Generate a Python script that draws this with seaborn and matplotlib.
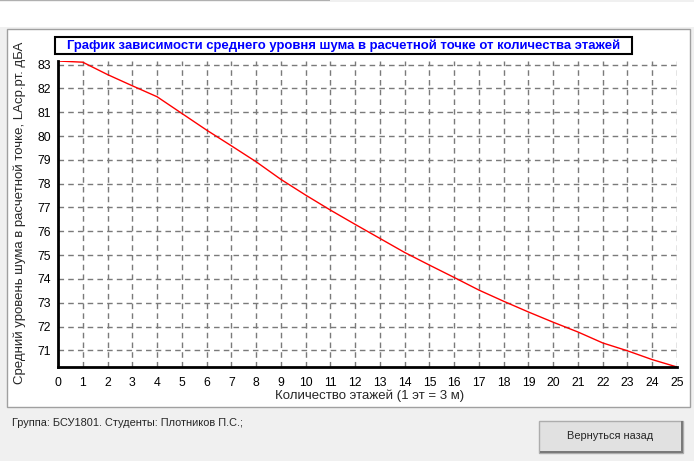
import numpy as np
import pandas as pd
import matplotlib
matplotlib.use("Agg")
import matplotlib.pyplot as plt
import seaborn as sns
from matplotlib.patches import Rectangle
from matplotlib.ticker import MultipleLocator

# ---------------------------
# Data
# ---------------------------
floors = list(range(0, 26))
noise_level = [83.15, 83.10, 82.58, 82.11, 81.65, 80.95, 80.25, 79.59, 78.92,
               78.18, 77.52, 76.89, 76.29, 75.70, 75.11, 74.58, 74.06, 73.53,
               73.06, 72.61, 72.18, 71.77, 71.31, 70.98, 70.61, 70.30]
y_ticks = list(range(71, 84))

title_text = "График зависимости среднего уровня шума в расчетной точке от количества этажей"
ylabel_text = "Средний уровень шума в расчетной точке, LАср.рт. дБА"
xlabel_text = "Количество этажей (1 эт = 3 м)"
footer_text = "Группа: БСУ1801. Студенты: Плотников П.С.;"
button_text = "Вернуться назад"

df = pd.DataFrame({"floors": floors, "noise": noise_level})

# ---------------------------
# Style
# ---------------------------
sns.set_style("white")
plt.rcParams['font.family'] = ['Liberation Sans', 'DejaVu Sans']

W, H = 694, 461
fig = plt.figure(figsize=(W / 100, H / 100), dpi=100, facecolor='#f0f0f0')


def px_rect(x0, y0, x1, y1, z=-1, **kw):
    # rectangle in pixel coords (origin top-left) -> figure fractions
    r = Rectangle((x0 / W, 1 - y1 / H), (x1 - x0) / W, (y1 - y0) / H,
                  transform=fig.transFigure, zorder=z, **kw)
    fig.patches.append(r)
    return r


# window background pieces (behind the axes)
px_rect(0, 2, W, 27, facecolor='white', edgecolor='none')
px_rect(0, 0, 330, 1.5, facecolor='#b0b0b0', edgecolor='none')
px_rect(6.5, 29, 689.5, 406.5, facecolor='white', edgecolor='#a0a0a0', linewidth=1)

# ---------------------------
# Chart
# ---------------------------
ax = fig.add_axes([58 / W, 1 - 367 / H, (677 - 58) / W, (367 - 61) / H])
ax.set_facecolor('white')
sns.lineplot(data=df, x="floors", y="noise", color='red', linewidth=1, ax=ax)

ax.set_xlim(min(floors), max(floors))
ax.set_ylim(min(noise_level), max(noise_level))
ax.set_xticks(floors)
ax.set_yticks(y_ticks)
ax.xaxis.set_minor_locator(MultipleLocator(0.2))
ax.grid(True, which='major', color='#7a7a7a', linestyle=(0, (4, 3)), linewidth=1)

for s in ['top', 'right']:
    ax.spines[s].set_visible(False)
for s in ['left', 'bottom']:
    ax.spines[s].set_color('black')
    ax.spines[s].set_linewidth(2)

ax.tick_params(axis='x', which='major', direction='out', length=4, width=1,
               pad=3, labelsize=8.8, colors='black')
ax.tick_params(axis='x', which='minor', direction='out', length=2, width=1)
ax.tick_params(axis='y', which='major', direction='out', length=4, width=1,
               pad=1, labelsize=8.8, colors='black')
ax.set_xlabel("")
ax.set_ylabel("")

# labels placed in pixel positions like the original form
fig.text(370 / W, 1 - 396 / H, xlabel_text, ha='center', va='center', fontsize=9.5)
fig.text(20 / W, 1 - 213 / H, ylabel_text, ha='center', va='center',
         rotation=90, fontsize=9.5)

# title in a framed box, on top of the axes
px_rect(55, 37, 632, 54.5, z=5, facecolor='white', edgecolor='black', linewidth=1.5)
fig.text(343.5 / W, 1 - 45.5 / H, title_text, ha='center', va='center',
         fontsize=9.45, fontweight='bold', color='#0000ff', zorder=6)

# ---------------------------
# Bottom bar with footer and button
# ---------------------------
fig.text(12 / W, 1 - 423 / H, footer_text, ha='left', va='center', fontsize=7.9)
px_rect(538.5, 420.5, 682.5, 452.5, facecolor='#e1e1e1', edgecolor='#adadad', linewidth=1)
px_rect(540, 451, 682.5, 452.5, facecolor='#7a7a7a', edgecolor='none')
px_rect(681, 420.5, 682.5, 452.5, facecolor='#7a7a7a', edgecolor='none')
fig.text(610 / W, 1 - 436 / H, button_text, ha='center', va='center', fontsize=7.9)

fig.savefig("out.png", dpi=100, facecolor=fig.get_facecolor())
